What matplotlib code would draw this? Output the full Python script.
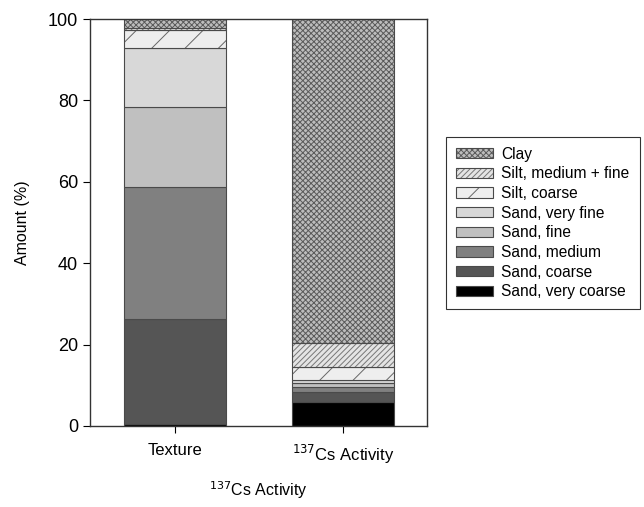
import matplotlib
matplotlib.use("Agg")
import matplotlib.pyplot as plt
import numpy as np

plt.rcParams['font.family'] = ['Liberation Sans', 'DejaVu Sans']
plt.rcParams['hatch.linewidth'] = 0.7

categories = ["Texture", "$^{137}$Cs Activity"]
fractions = ["Sand, very coarse", "Sand, coarse", "Sand, medium", "Sand, fine",
             "Sand, very fine", "Silt, coarse", "Silt, medium + fine", "Clay"]
texture = [0.5, 25.8, 32.3, 19.8, 14.5, 4.3, 0.5, 2.3]
cs_activity = [6.0, 2.4, 1.1, 1.1, 0.7, 3.2, 6.0, 79.5]

colors = ["#000000", "#555555", "#808080", "#c0c0c0", "#d8d8d8", "#eeeeee", "#e4e4e4", "#bdbdbd"]
hatches = [None, None, None, None, None, "/", "//////", "xxxxxx"]
hatch_colors = [None, None, None, None, None, "#666666", "#777777", "#5a5a5a"]

fig = plt.figure(figsize=(6.44, 5.07), dpi=100)
ax = fig.add_axes([90/644, 1-426/507, (427-90)/644, (426-19)/507])

x = np.array([1, 2])
bottom = np.zeros(2)
handles = []
for i, name in enumerate(fractions):
    vals = np.array([texture[i], cs_activity[i]])
    bars = ax.bar(x, vals, width=0.607, bottom=bottom, color=colors[i],
                  edgecolor="#4a4a4a", linewidth=0.8, label=name)
    if hatches[i]:
        for b in bars:
            b.set_hatch(hatches[i])
            b._hatch_color = matplotlib.colors.to_rgba(hatch_colors[i])
    handles.append(bars)
    bottom += vals

ax.set_xlim(0.494, 2.5)
ax.set_ylim(0, 100)
ax.set_xticks(x)
ax.set_xticklabels(categories, fontsize=12)
ax.set_yticks([0, 20, 40, 60, 80, 100])
ax.tick_params(axis='y', labelsize=13, direction='out', length=5)
ax.tick_params(axis='x', direction='out', length=5, pad=7)
ax.set_ylabel("Amount (%)", fontsize=11.5, labelpad=13)
ax.set_xlabel("$^{137}$Cs Activity", fontsize=11.5, labelpad=10)
for s in ax.spines.values():
    s.set_linewidth(1.0)
    s.set_color("#333333")

leg = fig.legend(handles[::-1], fractions[::-1], loc='center left',
                 bbox_to_anchor=(446/644, 1-223/507), fontsize=11.2,
                 frameon=True, fancybox=False, edgecolor='black',
                 handlelength=2.35, handleheight=0.63, labelspacing=0.3,
                 handletextpad=0.55, borderpad=0.65, borderaxespad=0.0)
leg.get_frame().set_linewidth(0.8)

fig.savefig("out.png", dpi=100)
